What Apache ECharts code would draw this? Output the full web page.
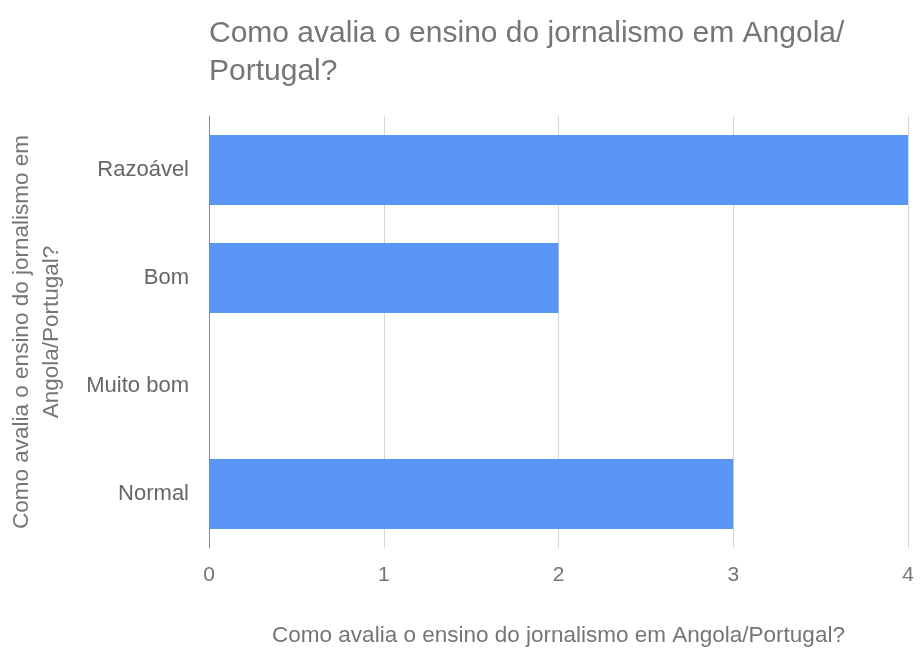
<!DOCTYPE html>
<html><head><meta charset="utf-8">
<script src="https://cdn.jsdelivr.net/npm/echarts@6/dist/echarts.min.js"></script>
<style>html,body{margin:0;padding:0;background:#fff}#c{width:920px;height:648px}</style>
</head><body><div id="c"></div>
<script>
const categories = ['Normal', 'Muito bom', 'Bom', 'Razoável'];
const values = [3, 0, 2, 4];
const xTicks = [0, 1, 2, 3, 4];
const titleText = 'Como avalia o ensino do jornalismo em Angola/\nPortugal?';
const yName = 'Como avalia o ensino do jornalismo em\nAngola/Portugal?';
const xName = 'Como avalia o ensino do jornalismo em Angola/Portugal?';

const F = 'Liberation Sans, Arial';
const chart = echarts.init(document.getElementById('c'));
chart.setOption({
  backgroundColor: '#fff',
  animation: false,
  title: {
    text: titleText, left: 204, top: 10,
    textStyle: {fontFamily: F, fontSize: 30, fontWeight: 'normal', color: '#757575', lineHeight: 38}
  },
  grid: {left: 209, right: 12, top: 116, bottom: 100, containLabel: false, outerBoundsMode: 'none'},
  xAxis: {
    type: 'value', min: xTicks[0], max: xTicks[xTicks.length - 1], interval: 1,
    name: xName, nameLocation: 'middle', nameGap: 76,
    nameTextStyle: {fontFamily: F, fontSize: 22.5, color: '#757575', verticalAlign: 'top'},
    axisLine: {show: false}, axisTick: {show: false},
    axisLabel: {margin: 17, fontFamily: F, fontSize: 21, color: '#757575'},
    splitLine: {show: true, lineStyle: {color: '#d6d6d6', width: 1}}
  },
  yAxis: {
    type: 'category', data: categories,
    name: yName, nameLocation: 'middle', nameGap: 142,
    nameTextStyle: {fontFamily: F, fontSize: 22.5, color: '#757575', lineHeight: 30},
    axisLine: {show: true, lineStyle: {color: '#888', width: 1}},
    axisTick: {show: false},
    axisLabel: {margin: 20, fontFamily: F, fontSize: 22, color: '#666'}
  },
  series: [{
    type: 'bar', data: values, barWidth: '65%',
    itemStyle: {color: '#5b95f6'}
  }]
});
</script></body></html>
